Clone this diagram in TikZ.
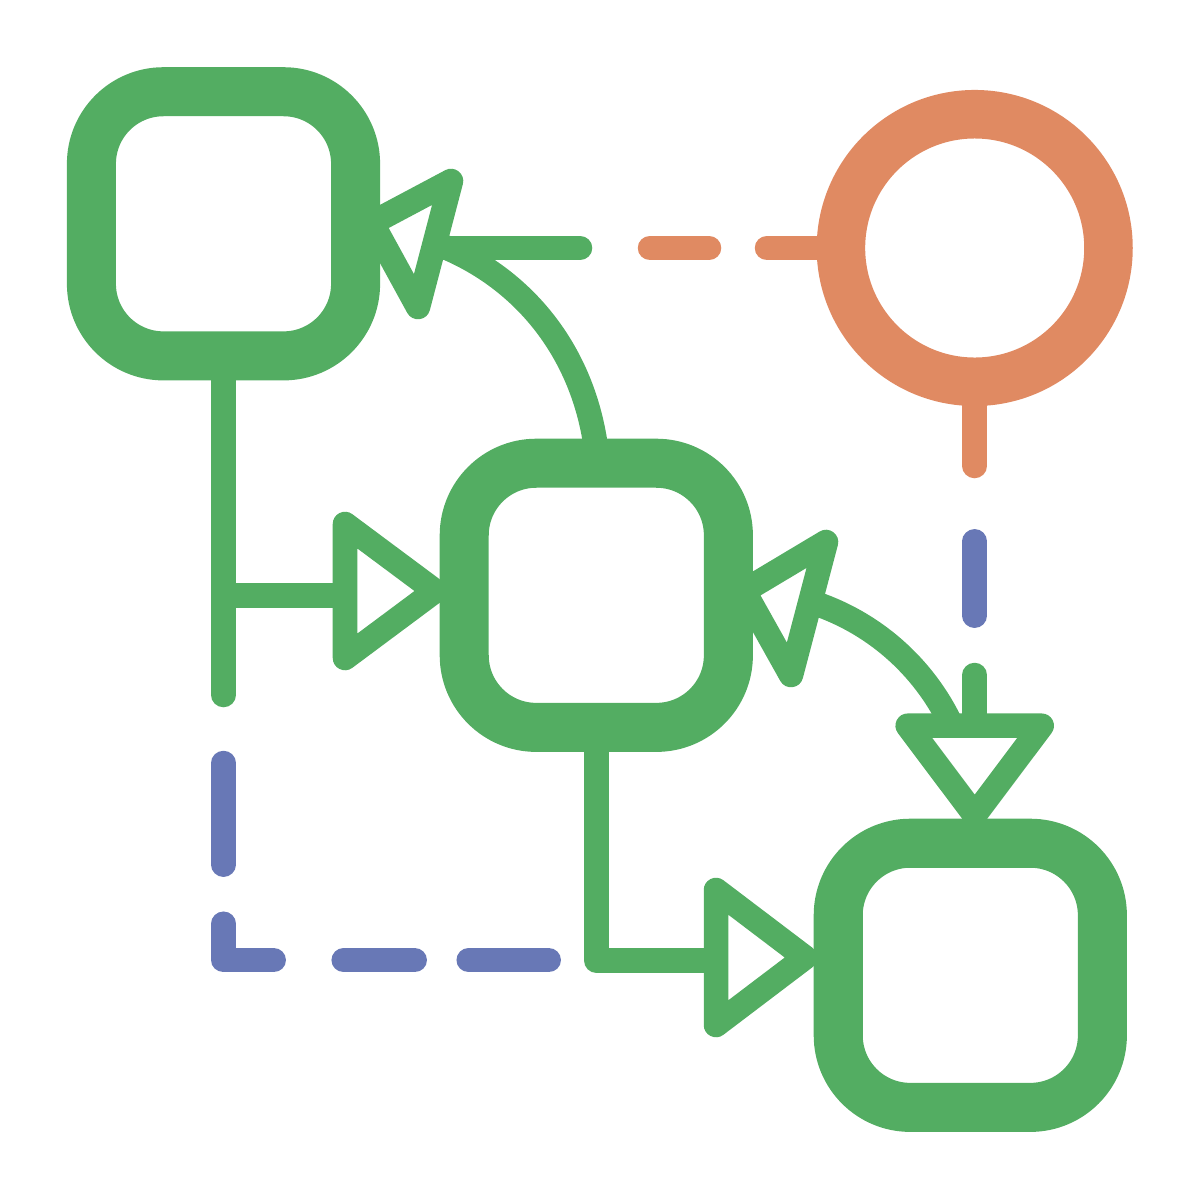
\documentclass[tikz,border=0pt]{standalone}
\usetikzlibrary{calc}
\definecolor{grn}{HTML}{53AD62}
\definecolor{org}{HTML}{E08A62}
\definecolor{blu}{HTML}{6878B6}
\tikzset{
  gbox/.style={draw=grn, line width=0.49cm, rounded corners=0.72cm,
    minimum width=2.64cm, minimum height=2.64cm, inner sep=0pt, outer sep=0.245cm},
  ocirc/.style={draw=org, line width=0.485cm, circle, minimum size=2.674cm,
    inner sep=0pt, outer sep=0.2425cm},
  conn/.style={line width=0.245cm, line cap=round, line join=round},
  tri/.style={draw=grn, fill=white, line width=0.245cm, line join=round},
}
\begin{document}
\begin{tikzpicture}[x=0.01cm,y=-0.01cm]
\useasboundingbox (0,0) rectangle (1200,1200);

% nodes
\node[gbox] (tl) at (223.5,223.8) {};
\node[gbox] (mid) at (596.3,595.3) {};
\node[gbox] (br) at (970.3,975.3) {};
\node[ocirc] (circ) at (974.7,248) {};

% named points of connectors
\coordinate (lvEnd) at (223.5,695);
\coordinate (lbStart) at (223.5,595.3);
\coordinate (lbBase) at (345,595.3);
\coordinate (corner) at (596.3,960.5);
\coordinate (bbBase) at (716,960.5);
\coordinate (topStart) at (434,248);
\coordinate (topEnd) at (580,248);
\coordinate (curveStart) at (594.8,440);
\coordinate (curveEnd) at (440,245);
\coordinate (stubEnd) at (974.7,466);
\coordinate (dnStart) at (974.7,675);
\coordinate (dnBase) at (974.7,725.7);
\coordinate (rcStart) at (811,602);
\coordinate (rcEnd) at (951,724);

% green solid connectors
\draw[conn, grn] (tl.south) -- (lvEnd);
\draw[conn, grn, line cap=butt] (lbStart) -- (lbBase);
\draw[conn, grn] (mid.south) -- (corner) -- (bbBase);
\draw[conn, grn] (curveStart) .. controls (580,350) and (523.7,278.3) .. (curveEnd);
\draw[conn, grn] (topStart) -- (topEnd);
\draw[conn, grn] (dnStart) -- (dnBase);
\draw[conn, grn] (rcStart) .. controls (872.6,621.6) and (923.1,665.7) .. (rcEnd);

% blue dashes
\draw[conn, blu] (223.5,763) -- (223.5,864.7);
\draw[conn, blu] (223.5,923.7) -- (223.5,960.2) -- (273.7,960.2);
\draw[conn, blu] (343.7,960.2) -- (414.7,960.2);
\draw[conn, blu] (468.7,960.2) -- (548.7,960.2);
\draw[conn, blu] (974.7,541.3) -- (974.7,615.7);

% orange dashes
\draw[conn, org] (650,248) -- (709,248);
\draw[conn, org] (767,248) -- (circ.west);
\draw[conn, org] (circ.south) -- (stubEnd);

% open triangle arrowheads
\draw[tri] (451,181) -- (372,223) -- (418,307) -- cycle;
\draw[tri] (826,542) -- (744,591) -- (791,675) -- cycle;
\draw[tri] (345,524) -- (435,591) -- (345,658) -- cycle;
\draw[tri] (716,890) -- (805,957.5) -- (716,1025) -- cycle;
\draw[tri] (907.7,725.7) -- (1041.7,725.7) -- (974.7,815) -- cycle;
\end{tikzpicture}
\end{document}
